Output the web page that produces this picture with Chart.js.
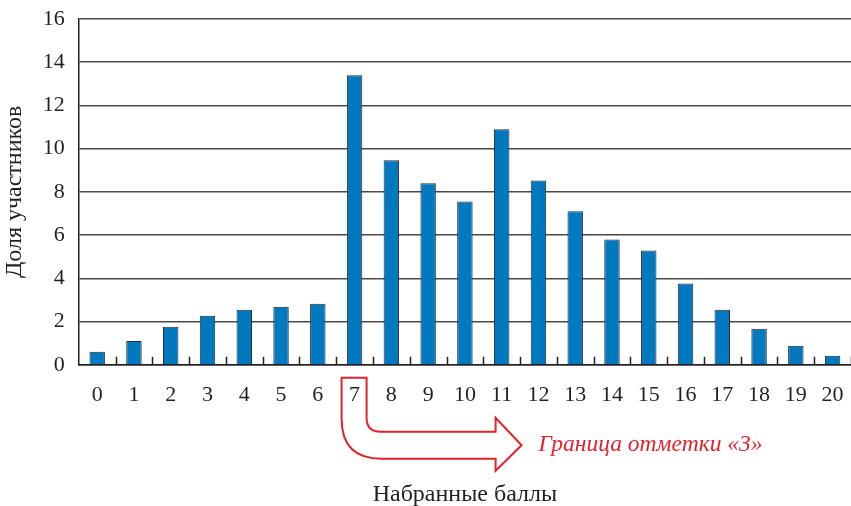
<!DOCTYPE html>
<html>
<head>
<meta charset="utf-8">
<script src="https://cdn.jsdelivr.net/npm/chart.js@4/dist/chart.umd.min.js"></script>
<style>
  html, body { margin: 0; padding: 0; background: #fff; }
  #wrap { width: 851px; height: 506px; }
</style>
</head>
<body>
<div id="wrap"><canvas id="chart"></canvas></div>
<script>
var scores = ['0', '1', '2', '3', '4', '5', '6', '7', '8', '9', '10', '11', '12', '13', '14', '15', '16', '17', '18', '19', '20'];
var shares = [0.6, 1.1, 1.76, 2.27, 2.55, 2.69, 2.83, 13.4, 9.46, 8.4, 7.56, 10.9, 8.53, 7.1, 5.8, 5.29, 3.76, 2.55, 1.67, 0.88, 0.42];
var yTitle = 'Доля участников';
var xTitle = 'Набранные баллы';
var note = 'Граница отметки «3»';
var boundaryScore = 7;

var serif = '"Liberation Serif", "DejaVu Serif", serif';
var ink = '#231f20';
var red = '#e3232c';

// short tick marks between the bars, drawn upward from the x axis
var innerTicks = {
  id: 'innerTicks',
  afterDatasetsDraw: function(chart) {
    var ctx = chart.ctx, x = chart.scales.x, area = chart.chartArea;
    ctx.save();
    ctx.strokeStyle = ink;
    ctx.lineWidth = 1.5;
    for (var i = 0; i < scores.length; i++) {
      var px = i < scores.length - 1
        ? (x.getPixelForValue(i) + x.getPixelForValue(i + 1)) / 2
        : x.getPixelForValue(i) + (x.getPixelForValue(i) - x.getPixelForValue(i - 1)) / 2;
      ctx.beginPath();
      ctx.moveTo(Math.round(px) + 0.5, area.bottom);
      ctx.lineTo(Math.round(px) + 0.5, area.bottom - 8);
      ctx.stroke();
    }
    ctx.restore();
  }
};

// bent arrow from the "7" label to the note
var boundaryArrow = {
  id: 'boundaryArrow',
  afterDraw: function(chart) {
    var ctx = chart.ctx, x = chart.scales.x, area = chart.chartArea;
    var cx = x.getPixelForValue(boundaryScore);
    var top = area.bottom + 13;
    var l = cx - 13, r = cx + 12;
    var shaftTop = top + 54, shaftBot = top + 81;
    var headX = cx + 141, tipX = cx + 167, tipY = (shaftTop + shaftBot) / 2;
    ctx.save();
    ctx.strokeStyle = red;
    ctx.lineWidth = 2;
    ctx.lineJoin = 'miter';
    ctx.beginPath();
    ctx.moveTo(l, top);
    ctx.lineTo(r, top);
    ctx.lineTo(r, shaftTop - 14);
    ctx.quadraticCurveTo(r, shaftTop, r + 14, shaftTop);
    ctx.lineTo(headX, shaftTop);
    ctx.lineTo(headX, shaftTop - 14);
    ctx.lineTo(tipX, tipY);
    ctx.lineTo(headX, shaftBot + 12);
    ctx.lineTo(headX, shaftBot);
    ctx.lineTo(l + 40, shaftBot);
    ctx.quadraticCurveTo(l, shaftBot, l, shaftBot - 40);
    ctx.closePath();
    ctx.stroke();
    ctx.fillStyle = red;
    ctx.font = 'italic 23.5px ' + serif;
    ctx.textBaseline = 'middle';
    ctx.fillText(note, tipX + 17, tipY);
    ctx.restore();
  }
};

new Chart(document.getElementById('chart'), {
  type: 'bar',
  data: {
    labels: scores,
    datasets: [{
      data: shares,
      backgroundColor: '#0079c1',
      borderColor: '#2b2b2b',
      borderWidth: 1,
      barPercentage: 0.42,
      categoryPercentage: 1.0
    }]
  },
  options: {
    responsive: true,
    maintainAspectRatio: false,
    animation: false,
    layout: { padding: { top: 19, right: 0, left: 0, bottom: -3 } },
    plugins: { legend: { display: false }, tooltip: { enabled: false } },
    scales: {
      x: {
        grid: { display: false, drawTicks: false },
        border: { color: ink, width: 1.5 },
        ticks: { color: ink, font: { family: serif, size: 22 }, padding: 17, maxRotation: 0 },
        title: { display: true, text: xTitle, color: ink, font: { family: serif, size: 24 }, padding: { top: 55, bottom: 0 } },
        afterFit: function(s) { s.paddingLeft = 0; s.paddingRight = 0; }
      },
      y: {
        min: 0, max: 16,
        grid: { color: '#4a4a4a', lineWidth: 1.5, drawTicks: false },
        border: { color: ink, width: 1.5 },
        ticks: { stepSize: 2, color: ink, font: { family: serif, size: 22 }, padding: 14 },
        title: { display: true, text: yTitle, color: ink, font: { family: serif, size: 24 }, padding: { top: 0, bottom: 0 } },
        afterFit: function(s) { s.paddingTop = 0; s.paddingBottom = 0; }
      }
    }
  },
  plugins: [innerTicks, boundaryArrow]
});
</script>
</body>
</html>
